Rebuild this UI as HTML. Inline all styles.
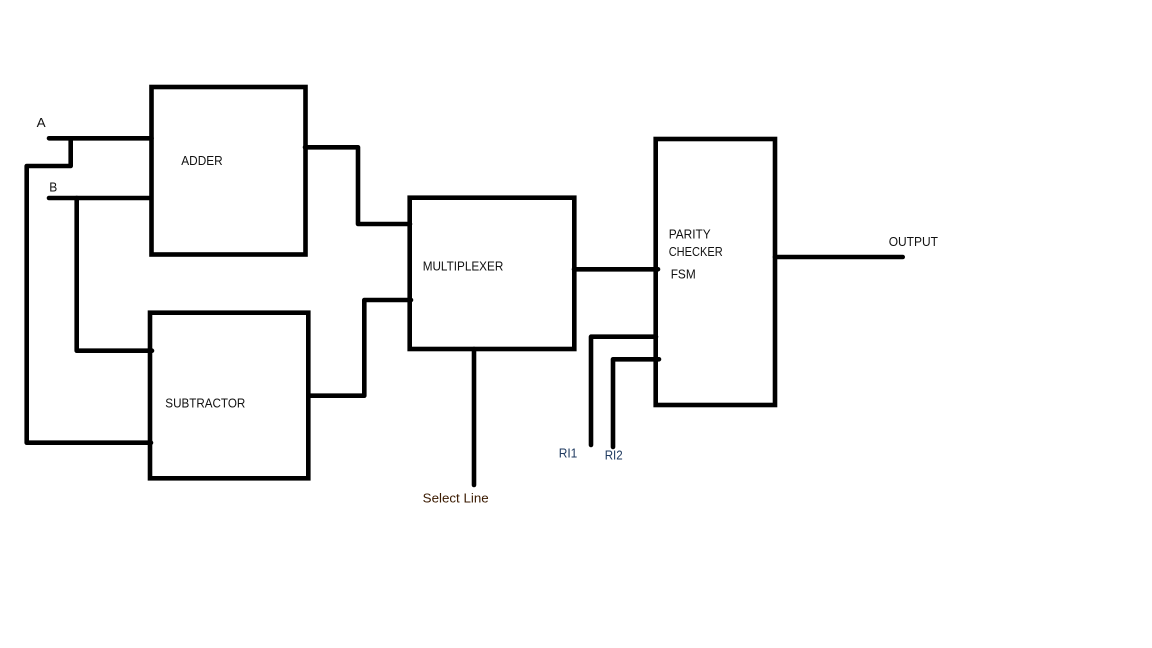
<!DOCTYPE html>
<html>
<head>
<meta charset="utf-8">
<style>
  html, body { margin: 0; padding: 0; background: #ffffff; }
  svg { display: block; }
  text { font-family: "Liberation Sans", "DejaVu Sans", sans-serif; font-size: 13px; fill: #111; }
</style>
</head>
<body>
<svg width="1152" height="648" viewBox="0 0 1152 648" xmlns="http://www.w3.org/2000/svg">
  <rect x="0" y="0" width="1152" height="648" fill="#ffffff"/>
  <g fill="none" stroke="#000" stroke-width="4.6" stroke-linejoin="miter">
    <!-- Boxes -->
    <rect x="151.5" y="87" width="154" height="167.5"/>
    <rect x="150" y="312.7" width="158.3" height="165.6"/>
    <rect x="409.7" y="197.7" width="164.6" height="151.3"/>
    <rect x="655.7" y="139" width="119.3" height="266"/>
  </g>
  <g fill="none" stroke="#000" stroke-width="4.6" stroke-linecap="round" stroke-linejoin="round">
    <!-- A input -->
    <path d="M49 138.3 H151.5"/>
    <path d="M70.7 138.3 V166 H26.7 V442.7 H151"/>
    <!-- B input -->
    <path d="M49 198 H151"/>
    <path d="M76.7 198 V350.7 H152"/>
    <!-- Adder output to mux -->
    <path d="M305 147.3 H358 V224 H410"/>
    <!-- Subtractor output to mux -->
    <path d="M310 395.7 H364.3 V300 H411"/>
    <!-- Mux output to parity -->
    <path d="M574 269.3 H658"/>
    <!-- Select line -->
    <path d="M474 349 V485"/>
    <!-- RI1 / RI2 -->
    <path d="M591 445 V336.7 H656"/>
    <path d="M613 447 V359.3 H659"/>
    <!-- Output -->
    <path d="M775 257 H902.7"/>
  </g>
  <!-- Labels -->
  <text x="36.7" y="127" textLength="9" lengthAdjust="spacingAndGlyphs">A</text>
  <text x="49.3" y="191.7" textLength="8" lengthAdjust="spacingAndGlyphs">B</text>
  <text x="181.3" y="165" textLength="41.4" lengthAdjust="spacingAndGlyphs">ADDER</text>
  <text x="165.3" y="407.3" textLength="80" lengthAdjust="spacingAndGlyphs">SUBTRACTOR</text>
  <text x="422.7" y="270.7" textLength="80.6" lengthAdjust="spacingAndGlyphs">MULTIPLEXER</text>
  <text x="668.7" y="238.3" textLength="42" lengthAdjust="spacingAndGlyphs">PARITY</text>
  <text x="668.7" y="256" textLength="54" lengthAdjust="spacingAndGlyphs">CHECKER</text>
  <text x="670.7" y="278.3" textLength="25" lengthAdjust="spacingAndGlyphs">FSM</text>
  <text x="888.7" y="246" textLength="49.3" lengthAdjust="spacingAndGlyphs">OUTPUT</text>
  <text x="422.7" y="502.7" textLength="66" lengthAdjust="spacingAndGlyphs" style="fill:#3a1a00">Select Line</text>
  <text x="558.7" y="457.7" textLength="18.6" lengthAdjust="spacingAndGlyphs" style="fill:#1f3a60">RI1</text>
  <text x="604.7" y="459.3" textLength="18" lengthAdjust="spacingAndGlyphs" style="fill:#1f3a60">RI2</text>
</svg>
</body>
</html>
